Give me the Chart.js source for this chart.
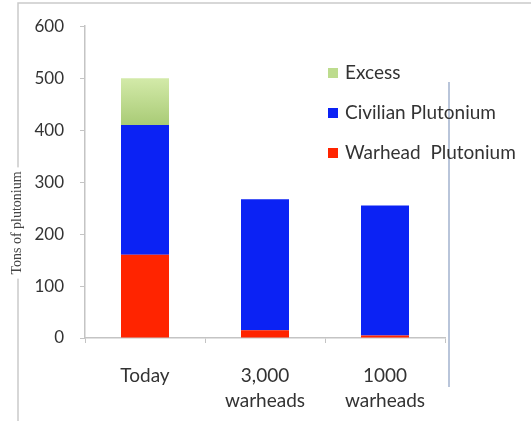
<!DOCTYPE html>
<html>
<head>
<meta charset="utf-8">
<script src="https://cdn.jsdelivr.net/npm/chart.js@4"></script>
<style>
  html, body { margin: 0; padding: 0; background: #fff; }
  #wrap { width: 531px; height: 421px; }
</style>
</head>
<body>
<div id="wrap"><canvas id="c" width="531" height="421"></canvas></div>
<script>
// Plutonium stockpile scenarios (tons)
const categories = ['Today', ['3,000', 'warheads'], ['1000', 'warheads']];
const warheadPlutonium = [160, 15, 5];
const civilianPlutonium = [250, 252, 250];
const excessPlutonium = [90, 0, 0];
const yTicks = [0, 100, 200, 300, 400, 500, 600];

const seriesLabels = ['Warhead  Plutonium', 'Civilian Plutonium', 'Excess'];
const RED = '#ff2400';
const BLUE = '#0b22f4';
const GREEN = '#bddc8e';

function greenFill(ctx) {
  const chart = ctx.chart;
  const area = chart.chartArea;
  if (!area) return GREEN;
  const y = chart.scales.y;
  const g = chart.ctx.createLinearGradient(0, y.getPixelForValue(500), 0, y.getPixelForValue(410));
  g.addColorStop(0, '#d3eaa9');
  g.addColorStop(1, '#a9cb76');
  return g;
}

const FONT = 'Lato, "Open Sans", sans-serif';

// Frame lines, rotated axis title, legend and right-hand divider
const decor = {
  id: 'decor',
  beforeDraw(chart) {
    const c = chart.ctx;
    c.save();
    c.strokeStyle = '#cacaca';
    c.lineWidth = 1.5;
    c.beginPath();
    c.moveTo(18, 421);
    c.lineTo(18, 3);
    c.lineTo(531, 3);
    c.stroke();
    c.restore();
  },
  afterDraw(chart) {
    const c = chart.ctx;
    c.save();
    // divider on the right
    c.strokeStyle = '#b9c5da';
    c.lineWidth = 2;
    c.beginPath();
    c.moveTo(449, 82);
    c.lineTo(449, 387);
    c.stroke();

    // y axis title
    c.translate(17, 223);
    c.rotate(-Math.PI / 2);
    c.font = '14px "Liberation Serif", "DejaVu Serif", serif';
    const title = 'Tons of plutonium';
    const w = c.measureText(title).width;
    c.fillStyle = '#fff';
    c.fillRect(-w / 2 - 4, -8, w + 8, 16);
    c.fillStyle = '#444';
    c.textAlign = 'center';
    c.textBaseline = 'middle';
    c.fillText(title, 0, 0);
    c.restore();

    // legend, top series first
    c.save();
    c.font = '19px ' + FONT;
    c.textBaseline = 'middle';
    const ds = chart.data.datasets;
    const order = [2, 1, 0];
    const swatch = [RED, BLUE, GREEN];
    order.forEach((idx, i) => {
      const yc = 73 + i * 40;
      c.fillStyle = swatch[idx];
      c.fillRect(328, yc - 5, 10, 10);
      c.fillStyle = '#333';
      c.fillText(ds[idx].label, 345, yc);
    });
    c.restore();
  }
};

new Chart(document.getElementById('c'), {
  type: 'bar',
  data: {
    labels: categories,
    datasets: [
      { label: seriesLabels[0], data: warheadPlutonium, backgroundColor: RED },
      { label: seriesLabels[1], data: civilianPlutonium, backgroundColor: BLUE },
      { label: seriesLabels[2], data: excessPlutonium, backgroundColor: greenFill }
    ]
  },
  options: {
    responsive: false,
    animation: false,
    devicePixelRatio: 1,
    layout: { padding: { top: 23, right: 86, bottom: 0, left: 0 } },
    datasets: { bar: { categoryPercentage: 1, barPercentage: 0.4, borderWidth: 0 } },
    plugins: { legend: { display: false }, tooltip: { enabled: false } },
    scales: {
      x: {
        stacked: true,
        grid: { drawOnChartArea: false, drawTicks: true, tickLength: 5, color: '#c4c4c4' },
        border: { display: true, color: '#c4c4c4', width: 1.5 },
        ticks: { color: '#333', font: { family: FONT, size: 19, lineHeight: 1.3 }, padding: 21, maxRotation: 0 },
        afterFit(s) { s.height = 83; }
      },
      y: {
        stacked: true,
        min: 0,
        max: 600,
        afterBuildTicks(s) { s.ticks = yTicks.map(v => ({ value: v })); },
        grid: { drawOnChartArea: false, drawTicks: true, tickLength: 5, color: '#c4c4c4' },
        border: { display: true, color: '#c4c4c4', width: 1.5 },
        ticks: { color: '#333', font: { family: FONT, size: 17 }, padding: 16 },
        afterFit(s) { s.width = 85; }
      }
    }
  },
  plugins: [decor]
});
</script>
</body>
</html>
